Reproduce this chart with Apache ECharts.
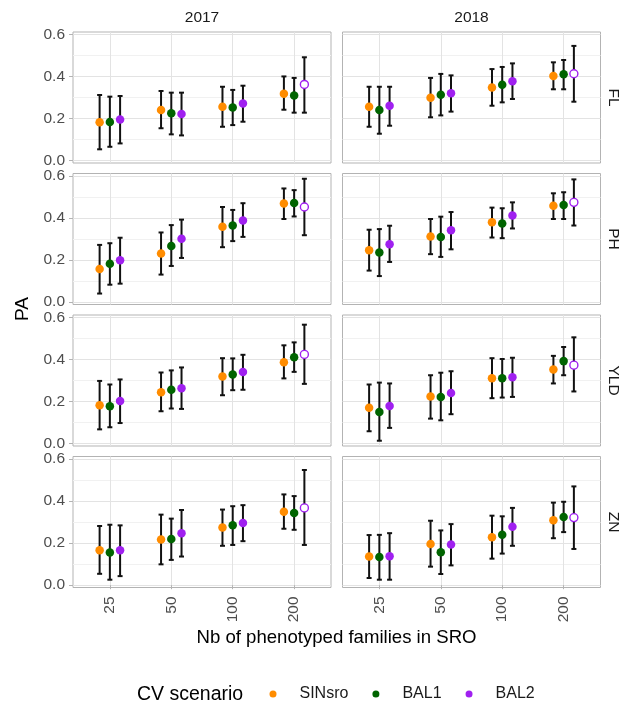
<!DOCTYPE html>
<html><head><meta charset="utf-8">
<script src="https://cdn.jsdelivr.net/npm/echarts@6/dist/echarts.min.js"></script>
<style>html,body{margin:0;padding:0;background:#fff}#c{width:635px;height:706px}</style>
</head><body><div id="c"></div>
<script>
// ---------- data ----------
const years = ['2017', '2018'];
const traits = ['FL', 'PH', 'YLD', 'ZN'];
const categories = ['25', '50', '100', '200'];
const scenarios = ['SINsro', 'BAL1', 'BAL2'];
const yTickValues = [0, 0.2, 0.4, 0.6];
const yMinorValues = [0.1, 0.3, 0.5];

// each entry per category: [PA mean, lower, upper]
const FL_2017_SINsro = [[0.182,0.054,0.312],[0.241,0.154,0.331],[0.256,0.161,0.351],[0.318,0.242,0.400]];
const FL_2017_BAL1   = [[0.184,0.066,0.304],[0.225,0.125,0.323],[0.252,0.169,0.336],[0.310,0.228,0.393]];
const FL_2017_BAL2   = [[0.196,0.082,0.307],[0.222,0.120,0.323],[0.272,0.185,0.356],[0.362,0.228,0.491]];

const PH_2017_SINsro = [[0.158,0.041,0.272],[0.231,0.131,0.331],[0.358,0.261,0.452],[0.468,0.395,0.540]];
const PH_2017_BAL1   = [[0.183,0.083,0.280],[0.267,0.172,0.366],[0.364,0.290,0.438],[0.471,0.407,0.532]];
const PH_2017_BAL2   = [[0.199,0.088,0.306],[0.301,0.210,0.392],[0.388,0.310,0.470],[0.452,0.318,0.586]];

const YLD_2017_SINsro = [[0.183,0.068,0.298],[0.244,0.154,0.338],[0.319,0.230,0.406],[0.387,0.310,0.467]];
const YLD_2017_BAL1   = [[0.178,0.078,0.281],[0.256,0.167,0.348],[0.329,0.254,0.405],[0.410,0.341,0.481]];
const YLD_2017_BAL2   = [[0.203,0.098,0.305],[0.263,0.165,0.362],[0.340,0.256,0.422],[0.424,0.284,0.565]];

const ZN_2017_SINsro = [[0.166,0.054,0.281],[0.217,0.099,0.335],[0.274,0.187,0.359],[0.349,0.268,0.431]];
const ZN_2017_BAL1   = [[0.155,0.026,0.287],[0.219,0.120,0.316],[0.284,0.191,0.375],[0.343,0.263,0.423]];
const ZN_2017_BAL2   = [[0.166,0.043,0.284],[0.247,0.136,0.357],[0.295,0.209,0.380],[0.367,0.191,0.547]];

const FL_2018_SINsro = [[0.256,0.161,0.351],[0.299,0.206,0.393],[0.348,0.261,0.435],[0.402,0.339,0.467]];
const FL_2018_BAL1   = [[0.241,0.128,0.351],[0.313,0.215,0.412],[0.361,0.277,0.445],[0.410,0.339,0.478]];
const FL_2018_BAL2   = [[0.261,0.166,0.351],[0.320,0.233,0.405],[0.377,0.293,0.462],[0.413,0.280,0.545]];

const PH_2018_SINsro = [[0.247,0.150,0.344],[0.312,0.228,0.395],[0.379,0.307,0.449],[0.458,0.395,0.517]];
const PH_2018_BAL1   = [[0.236,0.124,0.347],[0.310,0.215,0.406],[0.374,0.304,0.446],[0.462,0.395,0.522]];
const PH_2018_BAL2   = [[0.275,0.191,0.363],[0.341,0.251,0.428],[0.412,0.350,0.474],[0.474,0.364,0.583]];

const YLD_2018_SINsro = [[0.171,0.059,0.281],[0.224,0.119,0.325],[0.311,0.216,0.406],[0.352,0.286,0.417]];
const YLD_2018_BAL1   = [[0.151,0.014,0.290],[0.222,0.111,0.337],[0.311,0.219,0.402],[0.392,0.325,0.459]];
const YLD_2018_BAL2   = [[0.179,0.075,0.286],[0.241,0.140,0.344],[0.316,0.222,0.408],[0.373,0.248,0.505]];

const ZN_2018_SINsro = [[0.136,0.034,0.238],[0.195,0.088,0.306],[0.228,0.126,0.330],[0.308,0.223,0.392]];
const ZN_2018_BAL1   = [[0.134,0.026,0.239],[0.156,0.053,0.260],[0.239,0.150,0.327],[0.324,0.252,0.396]];
const ZN_2018_BAL2   = [[0.137,0.026,0.247],[0.193,0.094,0.290],[0.278,0.187,0.367],[0.321,0.172,0.469]];

// open (hollow) marker for this scenario / category
const hollowScenario = 'BAL2';
const hollowCategory = '200';

// ---------- lookup ----------
const panelData = {
  FL_2017: [FL_2017_SINsro, FL_2017_BAL1, FL_2017_BAL2],
  PH_2017: [PH_2017_SINsro, PH_2017_BAL1, PH_2017_BAL2],
  YLD_2017: [YLD_2017_SINsro, YLD_2017_BAL1, YLD_2017_BAL2],
  ZN_2017: [ZN_2017_SINsro, ZN_2017_BAL1, ZN_2017_BAL2],
  FL_2018: [FL_2018_SINsro, FL_2018_BAL1, FL_2018_BAL2],
  PH_2018: [PH_2018_SINsro, PH_2018_BAL1, PH_2018_BAL2],
  YLD_2018: [YLD_2018_SINsro, YLD_2018_BAL1, YLD_2018_BAL2],
  ZN_2018: [ZN_2018_SINsro, ZN_2018_BAL1, ZN_2018_BAL2]
};

// ---------- styling / layout ----------
const FONT = '"Liberation Sans", Arial, sans-serif';
const colors = { SINsro: '#FF8C00', BAL1: '#006400', BAL2: '#A020F0' };
const dodge = [-1 / 6, 0, 1 / 6];
const panelLeft = [73, 342.5];
const panelW = 258;
const panelTop0 = 32, rowStep = 141.5, panelH = 131;
const yMin = -0.011, yMax = 0.611;
const tickGray = '#b3b3b3', labelGray = '#4d4d4d';

const grids = [], xAxes = [], yAxes = [], series = [], graphics = [];

traits.forEach((trait, r) => {
  years.forEach((year, c) => {
    const g = grids.length;
    const top = panelTop0 + r * rowStep;
    grids.push({
      left: panelLeft[c], top: top, width: panelW, height: panelH,
      show: true, borderColor: '#b3b3b3', borderWidth: 1, backgroundColor: '#fff'
    });
    const catPos = categories.map((_, i) => i + 1);
    xAxes.push({
      type: 'value', gridIndex: g, min: 0.4, max: 4.6,
      axisLine: { show: false },
      axisTick: { show: r === traits.length - 1, customValues: catPos, length: 4, lineStyle: { color: tickGray } },
      axisLabel: {
        show: r === traits.length - 1, customValues: catPos, rotate: 90, margin: 9,
        formatter: v => categories[Math.round(v) - 1],
        color: labelGray, fontSize: 15.5, fontFamily: FONT
      },
      splitLine: { show: true, lineStyle: { color: '#e3e3e3', width: 1 } }
    });
    yAxes.push({
      type: 'value', gridIndex: g, min: yMin, max: yMax,
      axisLine: { show: false },
      axisTick: { show: c === 0, customValues: yTickValues, length: 4, lineStyle: { color: tickGray } },
      axisLabel: {
        show: c === 0, customValues: yTickValues, margin: 8,
        formatter: v => v.toFixed(1), color: labelGray, fontSize: 15.5, fontFamily: FONT
      },
      splitLine: { show: true, lineStyle: { color: '#e3e3e3', width: 1 } }
    });
    yAxes.push({
      type: 'value', gridIndex: g, min: yMin, max: yMax, position: 'left',
      axisLine: { show: false },
      axisTick: { show: false, customValues: yMinorValues },
      axisLabel: { show: false },
      splitLine: { show: true, lineStyle: { color: '#f1f1f1', width: 1 } }
    });

    const sets = panelData[trait + '_' + year];
    const barData = [];
    sets.forEach((vals, s) => {
      vals.forEach((v, k) => barData.push([k + 1 + dodge[s], v[1], v[2]]));
    });
    series.push({
      type: 'custom', name: 'errorbar', xAxisIndex: g, yAxisIndex: 2 * g,
      encode: { x: 0, y: [1, 2] }, data: barData, z: 2, silent: true,
      renderItem: (params, api) => {
        const x = api.value(0);
        const p1 = api.coord([x, api.value(2)]);
        const p2 = api.coord([x, api.value(1)]);
        const hw = 2.5;
        const st = { stroke: '#111', lineWidth: 2 };
        return {
          type: 'group', children: [
            { type: 'line', shape: { x1: p1[0], y1: p1[1], x2: p2[0], y2: p2[1] }, style: st },
            { type: 'line', shape: { x1: p1[0] - hw, y1: p1[1], x2: p1[0] + hw, y2: p1[1] }, style: st },
            { type: 'line', shape: { x1: p2[0] - hw, y1: p2[1], x2: p2[0] + hw, y2: p2[1] }, style: st }
          ]
        };
      }
    });
    sets.forEach((vals, s) => {
      const name = scenarios[s];
      series.push({
        type: 'scatter', name: name, xAxisIndex: g, yAxisIndex: 2 * g, z: 3,
        symbol: 'circle', symbolSize: 8.5,
        itemStyle: { color: colors[name], opacity: 1 },
        data: vals.map((v, k) => {
          const item = { value: [k + 1 + dodge[s], v[0]] };
          if (name === hollowScenario && categories[k] === hollowCategory) {
            item.symbolSize = 8;
            item.itemStyle = { color: '#fff', borderColor: colors[name], borderWidth: 1.4 };
          }
          return item;
        })
      });
    });

    if (r === 0) {
      graphics.push({
        type: 'text', x: panelLeft[c] + panelW / 2, y: 17.5,
        style: { text: year, align: 'center', verticalAlign: 'middle', fontSize: 15.5, fontFamily: FONT, fill: '#1a1a1a' }
      });
    }
    if (c === years.length - 1) {
      graphics.push({
        type: 'text', x: 613, y: top + panelH / 2, rotation: -Math.PI / 2,
        style: { text: trait, align: 'center', verticalAlign: 'middle', fontSize: 15.5, fontFamily: FONT, fill: '#1a1a1a' }
      });
    }
  });
});

graphics.push({
  type: 'text', x: 23, y: 309, rotation: Math.PI / 2,
  style: { text: 'PA', align: 'center', verticalAlign: 'middle', fontSize: 19, fontFamily: FONT, fill: '#000' }
});
graphics.push({
  type: 'text', x: 336.5, y: 638,
  style: { text: 'Nb of phenotyped families in SRO', align: 'center', verticalAlign: 'middle', fontSize: 18.6, fontFamily: FONT, fill: '#000' }
});
graphics.push({
  type: 'text', x: 137, y: 695,
  style: { text: 'CV scenario', align: 'left', verticalAlign: 'middle', fontSize: 19.5, fontFamily: FONT, fill: '#000' }
});

const chart = echarts.init(document.getElementById('c'), null, { renderer: 'canvas' });
chart.setOption({
  animation: false,
  backgroundColor: '#fff',
  grid: grids,
  xAxis: xAxes,
  yAxis: yAxes,
  legend: {
    data: scenarios, left: 269.5, top: 686, padding: 0, orient: 'horizontal',
    icon: 'circle', itemWidth: 7, itemHeight: 7, itemGap: 24, selectedMode: false,
    textStyle: { fontSize: 16, fontFamily: FONT, color: '#1a1a1a', padding: [0, 0, 0, 18] }
  },
  graphic: graphics,
  series: series
});
</script>
</body></html>
